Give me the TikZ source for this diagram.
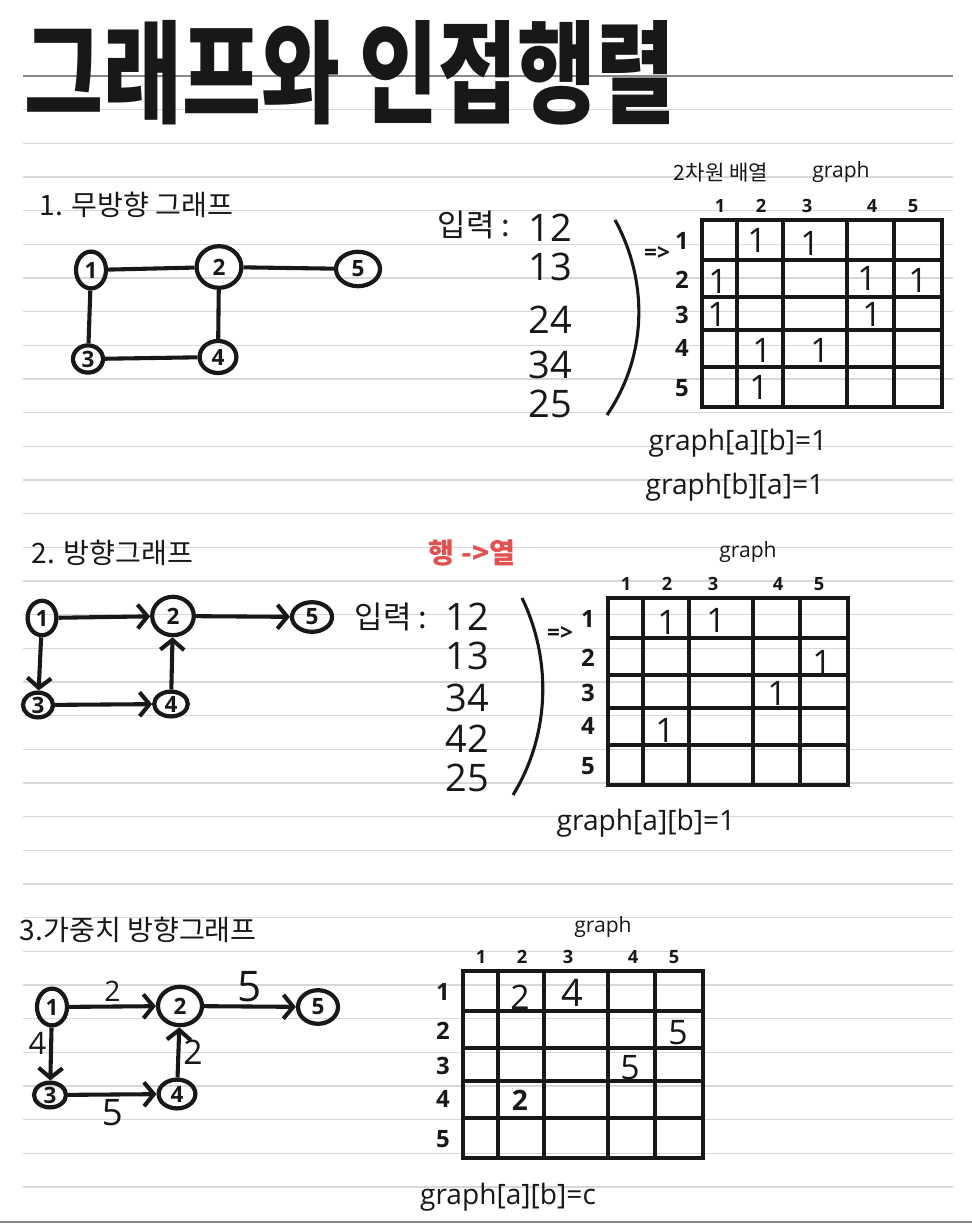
\documentclass[tikz,border=0pt]{standalone}
\usepackage{fontspec}
\usepackage{graphicx}
\setmainfont{Open Sans}
\newfontfamily\kr{Noto Sans CJK KR}
\usetikzlibrary{arrows.meta,shapes.geometric}

\definecolor{ink}{RGB}{24,24,24}
\definecolor{ruled}{RGB}{216,216,216}
\definecolor{marginline}{RGB}{135,135,135}
\definecolor{redpen}{RGB}{226,80,80}

\newcommand{\fsz}[1]{\fontsize{#1}{#1}\selectfont}

% 5x5 grid with its column and row numbers
\newcommand{\adjgrid}[1]{%
  \foreach \gx in {0,35,81,145,192,240}
    \draw[grid line] (\gx,0) -- (\gx,187);
  \foreach \gy in {0,40,77,110,147,187}
    \draw[grid line] (0,\gy) -- (240,\gy);
  \foreach \c/\hx in {1/18,2/59,3/105,4/170,5/211}
    \node[col num] (#1c\c) at (\hx,-14) {\c};
  \foreach \r/\ry in {1/21,2/60,3/95,4/128,5/168}
    \node[row num] (#1r\r) at (-20,\ry) {\r};
}

\begin{document}
\begin{tikzpicture}[x=0.025cm,y=-0.025cm,color=ink,
  main node/.style={ellipse,draw,line width=3pt,inner sep=0pt,font=\fsz{16}\bfseries},
  sz/.style 2 args={minimum width=#1cm,minimum height=#2cm},
  edge line/.style={line width=2.9pt},
  arrow tip/.style={-{Straight Barb[length=7pt,width=17pt]}},
  rule line/.style={ruled,line width=0.9pt},
  grid line/.style={line width=3.4pt,line cap=rect},
  col num/.style={font=\fsz{13}\bfseries},
  row num/.style={font=\fsz{17}\bfseries},
  head/.style={anchor=west,font=\kr\fsz{20}},
  pair/.style={anchor=east,inner sep=0pt,font=\fsz{27}},
  entry/.style={inner sep=0pt,font=\fsz{24}},
  formula/.style={font=\fsz{20}},
  small text/.style={font=\fsz{15}}]

  % paper
  \path[use as bounding box,fill=white] (0,0) rectangle (972,1229);
  \foreach \k in {1,...,33}
    \draw[rule line] (23,{76+33.67*\k}) -- (953,{76+33.67*\k});
  \draw[marginline,line width=1.6pt] (23,76) -- (953,76);
  \draw[marginline,line width=1.6pt] (0,1222) -- (972,1222);

  \node[font=\kr\fsz{61}\bfseries] (title) at (350,73) {\scalebox{1}[1.3]{그래프와 인접행렬}};

  % 1. undirected
  \node[head] (h1) at (35,205) {1. 무방향 그래프};
  \node[main node,sz={0.75}{0.92}] (u1) at (91,270) {1};
  \node[main node,sz={1.12}{1.04}] (u2) at (219,267) {2};
  \node[main node,sz={1.10}{0.86}] (u5) at (358,269) {5};
  \node[main node,sz={0.75}{0.68}] (u3) at (88,359) {3};
  \node[main node,sz={0.92}{0.80}] (u4) at (218,357) {4};

  \path[edge line]
    (u1) edge (u2)
    (u2) edge (u5)
    (u1) edge (u3)
    (u2) edge (u4)
    (u3) edge (u4);

  \node[anchor=east,font=\kr\fsz{22}] (inA) at (515,225) {입력 :};
  \node[pair] (pA1) at (572,228) {12};
  \node[pair] (pA2) at (572,267) {13};
  \node[pair] (pA3) at (572,320) {24};
  \node[pair] (pA4) at (572,365) {34};
  \node[pair] (pA5) at (572,404) {25};
  \draw[line width=2.2pt] (615,220) .. controls (648,280) and (648,355) .. (607,415);
  \node[font=\fsz{16}\bfseries] (toA) at (657,253) {=>};

  \node[small text,font=\kr\fsz{15}] (dimA) at (721,173) {2차원 배열};
  \node[small text] (nameA) at (841,172) {graph};
  \begin{scope}[shift={(702,220)}]
    \adjgrid{a}
    \node[entry] (a12) at (55,20) {1};
    \node[entry] (a13) at (108,23) {1};
    \node[entry] (a21) at (16,61) {1};
    \node[entry] (a24) at (165,58) {1};
    \node[entry] (a25) at (216,60) {1};
    \node[entry] (a31) at (15,94) {1};
    \node[entry] (a34) at (170,94) {1};
    \node[entry] (a42) at (60,130) {1};
    \node[entry] (a43) at (118,130) {1};
    \node[entry] (a52) at (57,167) {1};
  \end{scope}
  \node[formula] (fA1) at (738,443) {graph[a][b]=1};
  \node[formula] (fA2) at (735,487) {graph[b][a]=1};

  % 2. directed
  \node[head] (h2) at (27,553) {2. 방향그래프};
  \node[font=\kr\fsz{20}\bfseries,redpen] (rc) at (472,553) {행 ->열};
  \node[main node,sz={0.72}{0.86}] (d1) at (42,618) {1};
  \node[main node,sz={1.04}{0.96}] (d2) at (173,616) {2};
  \node[main node,sz={1.00}{0.74}] (d5) at (312,617) {5};
  \node[main node,sz={0.75}{0.62}] (d3) at (38,705) {3};
  \node[main node,sz={0.84}{0.62}] (d4) at (171,704) {4};

  \path[edge line,arrow tip]
    (d1) edge (d2)
    (d2) edge (d5)
    (d1) edge (d3)
    (d3) edge (d4)
    (d4) edge (d2);

  \node[anchor=east,font=\kr\fsz{22}] (inB) at (432,617) {입력 :};
  \node[pair] (pB1) at (489,617) {12};
  \node[pair] (pB2) at (489,656) {13};
  \node[pair] (pB3) at (489,698) {34};
  \node[pair] (pB4) at (489,739) {42};
  \node[pair] (pB5) at (489,778) {25};
  \draw[line width=2.2pt] (522,598) .. controls (552,660) and (550,735) .. (513,795);
  \node[font=\fsz{16}\bfseries] (toB) at (560,633) {=>};

  \node[small text] (nameB) at (748,552) {graph};
  \begin{scope}[shift={(608,598)}]
    \adjgrid{b}
    \node[entry] (b12) at (59,24) {1};
    \node[entry] (b13) at (108,22) {1};
    \node[entry] (b25) at (214,64) {1};
    \node[entry] (b34) at (169,95) {1};
    \node[entry] (b42) at (57,132) {1};
  \end{scope}
  \node[formula] (fB) at (646,823) {graph[a][b]=1};

  % 3. weighted directed
  \node[head] (h3) at (15,930) {3.가중치 방향그래프};
  \node[main node,sz={0.75}{0.92}] (w1) at (52,1007) {1};
  \node[main node,sz={1.10}{0.96}] (w2) at (180,1006) {2};
  \node[main node,sz={1.00}{0.84}] (w5) at (318,1007) {5};
  \node[main node,sz={0.80}{0.62}] (w3) at (50,1095) {3};
  \node[main node,sz={0.92}{0.72}] (w4) at (177,1094) {4};

  \path[edge line,arrow tip,every node/.style={inner sep=2pt}]
    (w1) edge node[above,font=\fsz{20},name=c12] {2} (w2)
    (w2) edge node[above,font=\fsz{30},name=c25] {5} (w5)
    (w1) edge node[left,pos=0.3,font=\fsz{22},name=c13] {4} (w3)
    (w3) edge node[below,font=\fsz{26},name=c34] {5} (w4)
    (w4) edge node[right,font=\fsz{24},name=c42] {2} (w2);

  \node[small text] (nameC) at (603,927) {graph};
  \begin{scope}[shift={(463,971)}]
    \adjgrid{c}
    \node[entry] (c12v) at (57,26) {2};
    \node[entry,font=\fsz{27}] (c13v) at (109,22) {4};
    \node[entry] (c25v) at (215,62) {5};
    \node[entry] (c34v) at (167,97) {5};
    \node[entry,font=\fsz{20}\bfseries] (c42v) at (57,129) {2};
  \end{scope}
  \node[formula] (fC) at (508,1197) {graph[a][b]=c};
\end{tikzpicture}
\end{document}
